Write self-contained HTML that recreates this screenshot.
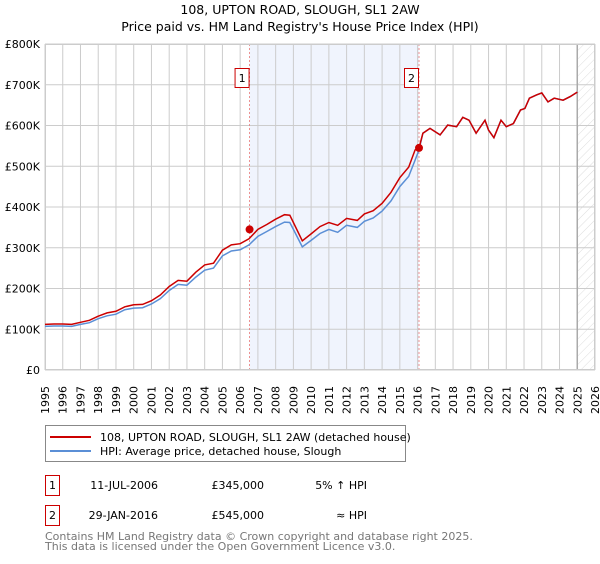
<!DOCTYPE html>
<html><head><meta charset="utf-8"><style>
body{margin:0;background:#fff;font-family:"DejaVu Sans","Liberation Sans",sans-serif}
svg text{font-family:"DejaVu Sans","Liberation Sans",sans-serif}
</style></head><body>
<svg id="c" width="600" height="560" xmlns="http://www.w3.org/2000/svg">
<defs><pattern id="hatch" width="6" height="6" patternUnits="userSpaceOnUse" patternTransform="rotate(45)"><line x1="0" y1="0" x2="0" y2="6" stroke="#ddd" stroke-width="1"/></pattern></defs>
<text x="300" y="14" text-anchor="middle" font-size="12.5" fill="#000">108, UPTON ROAD, SLOUGH, SL1 2AW</text>
<text x="300" y="31" text-anchor="middle" font-size="12.5" fill="#000">Price paid vs. HM Land Registry's House Price Index (HPI)</text>
<g id="plot"></g>
<g>
<rect x="45.5" y="425.5" width="360" height="36" fill="#fff" stroke="#888"/>
<line x1="50" y1="437" x2="91" y2="437" stroke="#cc0000" stroke-width="2"/>
<text x="100" y="441" font-size="11">108, UPTON ROAD, SLOUGH, SL1 2AW (detached house)</text>
<line x1="50" y1="451" x2="91" y2="451" stroke="#5b8fd6" stroke-width="2"/>
<text x="100" y="455" font-size="11">HPI: Average price, detached house, Slough</text>
</g>
<g font-size="11">
<rect x="45.5" y="475.5" width="14" height="20" fill="#fff" stroke="#cc0000"/>
<text x="52.5" y="489" text-anchor="middle">1</text>
<text x="158" y="489" text-anchor="end">11-JUL-2006</text>
<text x="264" y="489" text-anchor="end">£345,000</text>
<text x="367" y="489" text-anchor="end">5% ↑ HPI</text>
<rect x="45.5" y="505.5" width="14" height="20" fill="#fff" stroke="#cc0000"/>
<text x="52.5" y="519" text-anchor="middle">2</text>
<text x="158" y="519" text-anchor="end">29-JAN-2016</text>
<text x="264" y="519" text-anchor="end">£545,000</text>
<text x="367" y="519" text-anchor="end">≈ HPI</text>
</g>
<text x="45" y="540" font-size="11" fill="#777">Contains HM Land Registry data © Crown copyright and database right 2025.</text>
<text x="45" y="550" font-size="11" fill="#777">This data is licensed under the Open Government Licence v3.0.</text>
</svg>
<script>
const hpiYears=[1995,1995.5,1996,1996.5,1997,1997.5,1998,1998.5,1999,1999.5,2000,2000.5,2001,2001.5,2002,2002.5,2003,2003.5,2004,2004.5,2005,2005.5,2006,2006.5,2007,2007.5,2008,2008.5,2008.8,2009,2009.5,2010,2010.5,2011,2011.5,2012,2012.6,2013,2013.5,2014,2014.5,2015,2015.5,2015.86,2016.08,2016.3,2016.7,2017.27,2017.7,2018.2,2018.55,2018.9,2019.3,2019.8,2020.0,2020.3,2020.7,2021.0,2021.4,2021.8,2022.05,2022.3,2022.7,2023.0,2023.35,2023.7,2024.2,2024.6,2025.0];
const hpiValues=[107,108,108,107,112,116,126,133,137,148,152,153,162,175,195,210,208,228,245,250,280,292,295,307,328,340,352,363,362,345,302,318,335,345,338,355,350,365,373,390,415,450,475,515,540,581,593,577,601,597,620,613,581,613,589,570,613,597,605,638,642,667,675,680,658,667,662,671,682];
const priceValues=[112,113,113,112,117,122,132,140,144,155,160,161,170,184,205,220,218,240,258,262,294,307,310,322,345,357,370,381,380,362,317,334,352,362,355,372,367,383,391,409,436,472,498,540,545,581,593,577,601,597,620,613,581,613,589,570,613,597,605,638,642,667,675,680,658,667,662,671,682];
const saleYears=[2006.53,2016.08];
const saleValues=[345,545];
const yTicks=[0,100,200,300,400,500,600,700,800];
const yTickLabels=["£0","£100K","£200K","£300K","£400K","£500K","£600K","£700K","£800K"];
const xTicks=[1995,1996,1997,1998,1999,2000,2001,2002,2003,2004,2005,2006,2007,2008,2009,2010,2011,2012,2013,2014,2015,2016,2017,2018,2019,2020,2021,2022,2023,2024,2025,2026];

const X0=45,X1=595,Y0=370,Y1=44;
const xs=y=>X0+(y-1995)/(2026-1995)*(X1-X0);
const ys=v=>Y0-v/800*(Y0-Y1);
const NS="http://www.w3.org/2000/svg";
const g=document.getElementById('plot');
function mk(t,a){const e=document.createElementNS(NS,t);for(const k in a)e.setAttribute(k,a[k]);g.appendChild(e);return e;}
let e;
e=mk('rect',{x:xs(saleYears[0]),y:Y1,width:xs(saleYears[1])-xs(saleYears[0]),height:Y0-Y1,fill:'#f0f4fd'});


e=mk('rect',{x:xs(2025),y:Y1,width:X1-xs(2025),height:Y0-Y1,fill:'url(#hatch)'});


xTicks.forEach((t,i)=>{
  const x=xs(t);
  e=mk('line',{x1:x,y1:Y1,x2:x,y2:Y0,stroke:'#ccc','stroke-width':1});
  
  
  e=mk('text',{x:0,y:0,transform:`translate(${x+4},414) rotate(-90)`,'font-size':'11',fill:'#000'});
  e.textContent=t;
  
  
});
yTicks.forEach((t,i)=>{
  const y=ys(t);
  e=mk('line',{x1:X0,y1:y,x2:X1,y2:y,stroke:'#ccc','stroke-width':1});
  
  
  e=mk('text',{x:40,y:y+4,'text-anchor':'end','font-size':'11',fill:'#000'});
  e.textContent=yTickLabels[i];
  
  
});
e=mk('line',{x1:xs(2025),y1:Y1,x2:xs(2025),y2:Y0,stroke:'#aaa','stroke-width':1.5});


saleYears.forEach((s,i)=>{
  const x=xs(s);
  e=mk('line',{x1:x,y1:Y1,x2:x,y2:Y0,stroke:'#e87878','stroke-width':0.8,'stroke-dasharray':'2,2'});
  
  
  e=mk('rect',{x:x-14.5,y:68.5,width:14,height:19,fill:'#fff',stroke:'#cc0000'});
  
  
  e=mk('text',{x:x-7.5,y:82,'text-anchor':'middle','font-size':'11'});
  e.textContent=String(i+1);
  
  
});
e=mk('rect',{x:X0+0.5,y:Y1+0.5,width:X1-X0-1,height:Y0-Y1-1,fill:'none',stroke:'#ccc'});


const pts=(vals)=>hpiYears.map((y,i)=>xs(y).toFixed(1)+','+ys(vals[i]).toFixed(1)).join(' ');
e=mk('polyline',{points:pts(hpiValues),fill:'none',stroke:'#5b8fd6','stroke-width':1.5});


e=mk('polyline',{points:pts(priceValues),fill:'none',stroke:'#cc0000','stroke-width':1.5});


saleYears.forEach((s,i)=>{
  e=mk('circle',{cx:xs(s),cy:ys(saleValues[i]),r:4,fill:'#cc0000'});
  
  
});
</script>
</body></html>
